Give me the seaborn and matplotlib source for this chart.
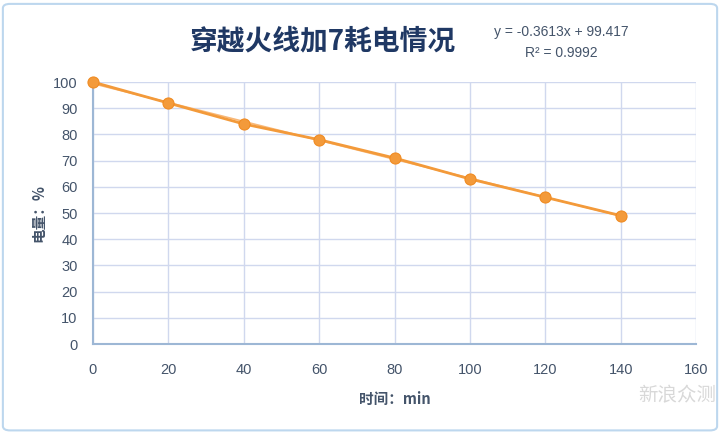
import numpy as np
import pandas as pd
import matplotlib
matplotlib.use('Agg')
import matplotlib.pyplot as plt
import seaborn as sns
from matplotlib.patches import FancyBboxPatch

# 数据
time_min = [0, 20, 40, 60, 80, 100, 120, 140]
battery_pct = [100, 92, 84, 78, 71, 63, 56, 49]
fit_slope = -0.3613
fit_intercept = 99.417
x_ticks = [0, 20, 40, 60, 80, 100, 120, 140, 160]
y_ticks = [0, 10, 20, 30, 40, 50, 60, 70, 80, 90, 100]

df = pd.DataFrame({'time': time_min, 'battery': battery_pct})

sns.set_theme(style='white')
plt.rcParams['font.family'] = ['Noto Sans CJK SC', 'DejaVu Sans']

text_col = '#44546A'
grid_col = '#D0D8EE'
orange = '#F39A3A'

fig = plt.figure(figsize=(7.2, 4.33), dpi=100)
fig.patches.append(FancyBboxPatch((0.004, 0.006), 0.992, 0.985,
                                  boxstyle='round,pad=0,rounding_size=0.01',
                                  transform=fig.transFigure, fill=False,
                                  edgecolor='#BDD7EE', linewidth=1.5))

ax = fig.add_axes([0.129, 0.2055, 0.838, 0.605])

# 趋势线
xx = np.array([0, 140])
ax.plot(xx, fit_slope * xx + fit_intercept, color='#F8B878', linewidth=1.2, zorder=2)

sns.lineplot(data=df, x='time', y='battery', ax=ax, color=orange, linewidth=2,
             marker='o', markersize=8, markeredgecolor='#F08A20', zorder=3,
             clip_on=False)

ax.set_xlim(0, 160)
ax.set_ylim(0, 100)
ax.set_xticks(x_ticks)
ax.set_yticks(y_ticks)
ax.grid(True, color=grid_col, linewidth=1)
for s in ['top', 'right']:
    ax.spines[s].set_visible(False)
for s in ['left', 'bottom']:
    ax.spines[s].set_color('#9DB7D5')
    ax.spines[s].set_linewidth(1.5)
ax.tick_params(axis='y', length=0, labelsize=10.5, colors=text_col, pad=11)
ax.tick_params(axis='x', length=0, labelsize=10.5, colors=text_col, pad=14)
for lab in ax.get_xticklabels() + ax.get_yticklabels():
    lab.set_fontfamily(['Liberation Sans', 'DejaVu Sans'])

ax.set_xlabel('时间：min', fontsize=10.5, fontweight='bold', color=text_col, labelpad=10)
ax.set_ylabel('电量：%', fontsize=10.5, fontweight='bold', color=text_col, labelpad=5)

fig.text(0.448, 0.905, '穿越火线加7耗电情况', ha='center', va='center',
         fontsize=20, fontweight='bold', color='#1F3864')
fig.text(0.78, 0.925, 'y = -0.3613x + 99.417', ha='center', va='center',
         fontsize=10, color=text_col, family=['Liberation Sans', 'DejaVu Sans'])
fig.text(0.78, 0.878, 'R² = 0.9992', ha='center', va='center',
         fontsize=10, color=text_col, family=['Liberation Sans', 'DejaVu Sans'])

# 水印
fig.text(0.94, 0.085, '新浪众测', ha='center', va='center', fontsize=14,
         color='#D8D8D8')

fig.savefig('out.png', dpi=100)
